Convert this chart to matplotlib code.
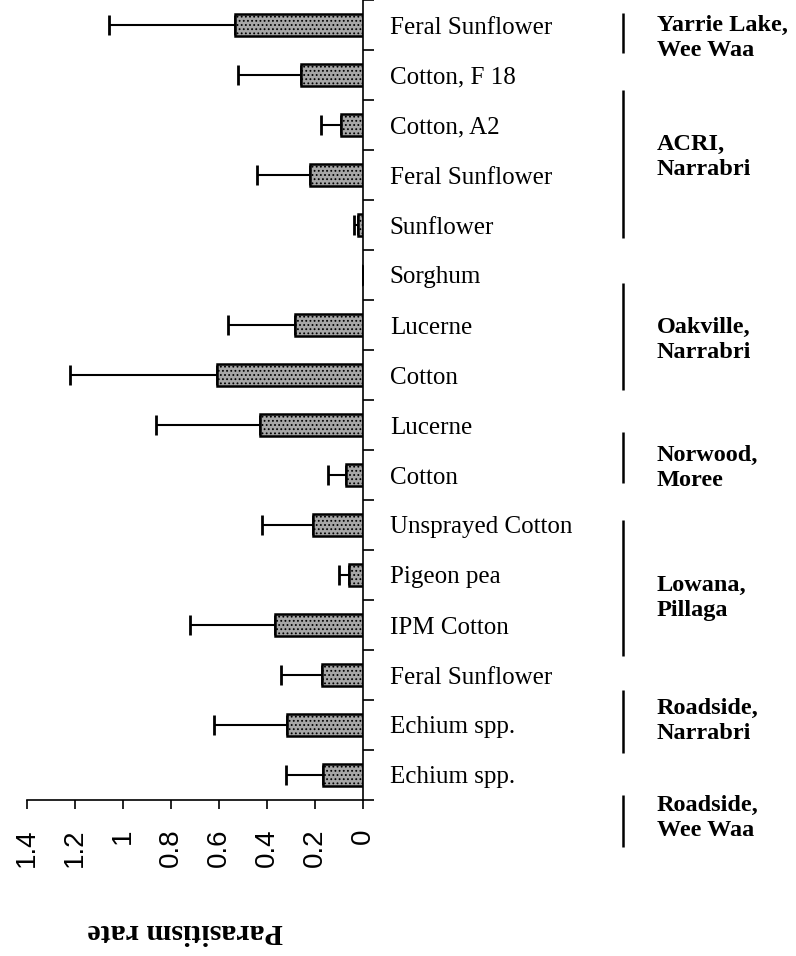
import numpy as np
import matplotlib.pyplot as plt

# ---------------------------------------------------------------- data
crops = [
    "Feral Sunflower", "Cotton, F 18", "Cotton, A2", "Feral Sunflower",
    "Sunflower", "Sorghum", "Lucerne", "Cotton", "Lucerne", "Cotton",
    "Unsprayed Cotton", "Pigeon pea", "IPM Cotton", "Feral Sunflower",
    "Echium spp.", "Echium spp.",
]
parasitism = [0.532, 0.258, 0.090, 0.220, 0.021, 0.0, 0.281, 0.608,
              0.428, 0.070, 0.208, 0.056, 0.364, 0.171, 0.314, 0.167]
parasitism_se = [0.524, 0.263, 0.085, 0.222, 0.015, 0.0, 0.279, 0.614,
                 0.433, 0.073, 0.213, 0.044, 0.358, 0.169, 0.308, 0.154]

sites = [
    "Yarrie Lake,\nWee Waa", "ACRI,\nNarrabri", "Oakville,\nNarrabri",
    "Norwood,\nMoree", "Lowana,\nPillaga", "Roadside,\nNarrabri",
    "Roadside,\nWee Waa",
]
value_ticks = [1.4, 1.2, 1.0, 0.8, 0.6, 0.4, 0.2, 0.0]
value_tick_labels = ["1.4", "1.2", "1", "0.8", "0.6", "0.4", "0.2", "0"]

# layout of the site brackets, in row units (row i is centred on i)
site_bracket = [(-0.24, 0.56), (1.30, 4.26), (5.16, 7.30), (8.14, 9.16),
                (9.90, 12.62), (13.30, 14.56), (15.40, 16.44)]
site_label_y = [0.26, 2.64, 6.30, 8.86, 11.46, 13.92, 15.86]

SERIF = "Liberation Serif"
SANS = "Liberation Sans"

plt.rcParams["hatch.color"] = "#3c3c3c"
plt.rcParams["hatch.linewidth"] = 0.8

fig = plt.figure(figsize=(7.96, 9.56), dpi=100)
ax = fig.add_axes([27 / 796, 156 / 956, 335.7 / 796, 800 / 956])

rows = np.arange(len(crops))
ax.barh(rows, parasitism, height=0.45, color="#a6a6a6", edgecolor="black",
        linewidth=1.8, hatch="....", zorder=2)
ax.errorbar(parasitism, rows, xerr=[np.zeros(len(rows)), parasitism_se],
            fmt="none", ecolor="black", elinewidth=1.5, capsize=7.5,
            capthick=2, zorder=1)

ax.set_xlim(1.4, 0)
ax.set_ylim(len(crops) - 0.5, -0.5)

for side in ("top", "left"):
    ax.spines[side].set_visible(False)
for side in ("right", "bottom"):
    ax.spines[side].set_linewidth(1.2)

ax.set_xticks(value_ticks)
ax.set_xticklabels(value_tick_labels, rotation=90, fontsize=20, family=SANS)
ax.tick_params(axis="x", direction="out", length=6.5, width=1.2, pad=14)

ax.yaxis.tick_right()
ax.set_yticks(np.arange(-0.5, len(crops), 1.0))
ax.set_yticklabels([])
ax.tick_params(axis="y", direction="out", length=8, width=1.2)

for row, crop in zip(rows, crops):
    ax.text(-0.113, row + 0.05, crop, ha="left", va="center", fontsize=18,
            family=SERIF, clip_on=False)

for (y0, y1), label_y, site in zip(site_bracket, site_label_y, sites):
    ax.plot([-1.085, -1.085], [y0, y1], color="black", lw=1.8,
            clip_on=False, solid_capstyle="butt")
    ax.text(-1.226, label_y, site, ha="left", va="center", fontsize=17.5,
            family=SERIF, weight="bold", linespacing=1.3, clip_on=False)

fig.text(185 / 796, 1 - 932 / 956, "Parasitism rate", rotation=180,
         ha="center", va="center", fontsize=21.5, family=SERIF, weight="bold")

fig.savefig("out.png", dpi=100)
